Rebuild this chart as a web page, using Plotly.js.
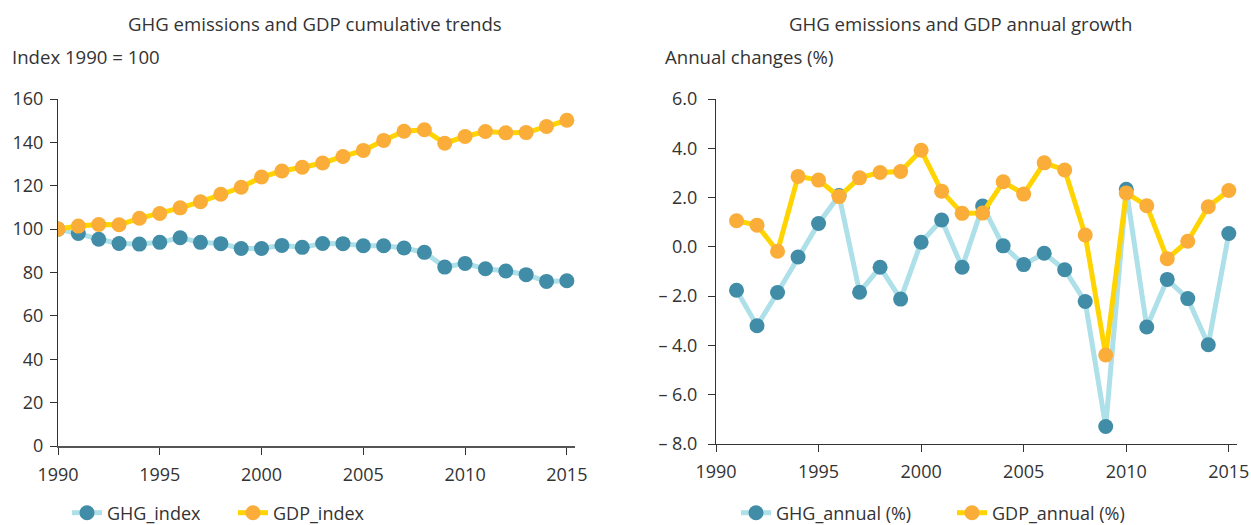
<!DOCTYPE html>
<html>
<head>
<meta charset="utf-8">
<script src="https://cdn.plot.ly/plotly-3.0.1.min.js"></script>
<style>html,body{margin:0;padding:0;background:#fff;overflow:hidden;}#chart{width:1251px;height:525px;}</style>
</head>
<body>
<div id="chart"></div>
<script>
const years = [1990,1991,1992,1993,1994,1995,1996,1997,1998,1999,2000,2001,2002,2003,2004,2005,2006,2007,2008,2009,2010,2011,2012,2013,2014,2015];
const ghgIndex = [100,98.0,95.3,93.4,93.1,93.9,96.0,93.9,93.3,91.1,91.1,92.5,91.6,93.4,93.3,92.3,92.3,91.3,89.3,82.5,84.2,81.7,80.7,79.0,75.9,76.2];
const gdpIndex = [100,101.4,102.1,102.0,105.0,107.2,109.8,112.6,116.1,119.3,124.0,126.8,128.5,130.5,133.5,136.3,140.9,145.1,145.8,139.6,142.7,145.0,144.4,144.5,147.3,150.2];

const annualYears = [1991,1992,1993,1994,1995,1996,1997,1998,1999,2000,2001,2002,2003,2004,2005,2006,2007,2008,2009,2010,2011,2012,2013,2014,2015];
const ghgAnnual = [-1.76,-3.20,-1.85,-0.41,0.95,2.08,-1.84,-0.83,-2.12,0.19,1.09,-0.83,1.66,0.04,-0.72,-0.26,-0.93,-2.22,-7.29,2.34,-3.25,-1.32,-2.10,-3.97,0.54];
const gdpAnnual = [1.06,0.88,-0.18,2.86,2.71,2.04,2.80,3.02,3.06,3.92,2.26,1.36,1.37,2.64,2.14,3.41,3.12,0.48,-4.39,2.19,1.67,-0.48,0.23,1.63,2.29];

const xTicks = [1990,1995,2000,2005,2010,2015];
const leftYTicks = [0,20,40,60,80,100,120,140,160];
const rightYTicks = [-8,-6,-4,-2,0,2,4,6];
const rightYLabels = ['\u2013 8.0','\u2013 6.0','\u2013 4.0','\u2013 2.0','0.0','2.0','4.0','6.0'];

const ghgLine = '#ade0e8', ghgMarker = '#418ca6';
const gdpLine = '#ffd400', gdpMarker = '#fbad3a';
const txt = '#333333';
const font = {family: '"Open Sans", sans-serif', size: 18, color: txt};
const titleFont = {family: '"Open Sans", sans-serif', size: 18.6, color: txt};

const W = 1251, H = 525;
const px = v => v / W, py = v => 1 - v / H;

const traces = [
  {x: years, y: ghgIndex, name: 'GHG_index', type: 'scatter', mode: 'lines+markers',
   line: {color: ghgLine, width: 5}, marker: {color: ghgMarker, size: 15},
   xaxis: 'x', yaxis: 'y', legend: 'legend'},
  {x: years, y: gdpIndex, name: 'GDP_index', type: 'scatter', mode: 'lines+markers',
   line: {color: gdpLine, width: 5}, marker: {color: gdpMarker, size: 15},
   xaxis: 'x', yaxis: 'y', legend: 'legend'},
  {x: annualYears, y: ghgAnnual, name: 'GHG_annual (%)', type: 'scatter', mode: 'lines+markers',
   line: {color: ghgLine, width: 5}, marker: {color: ghgMarker, size: 15},
   xaxis: 'x2', yaxis: 'y2', legend: 'legend2'},
  {x: annualYears, y: gdpAnnual, name: 'GDP_annual (%)', type: 'scatter', mode: 'lines+markers',
   line: {color: gdpLine, width: 5}, marker: {color: gdpMarker, size: 15},
   xaxis: 'x2', yaxis: 'y2', legend: 'legend2'}
];

const axisCommon = {
  showgrid: false, zeroline: false, showline: true, linecolor: txt, linewidth: 1,
  ticks: 'outside', ticklen: 7, tickcolor: txt, tickwidth: 1,
  tickfont: font, fixedrange: true
};

const layout = {
  width: W, height: H,
  margin: {l: 0, r: 0, t: 0, b: 0, autoexpand: false},
  paper_bgcolor: '#fff', plot_bgcolor: '#fff',
  font: font,
  showlegend: true,
  xaxis: Object.assign({}, axisCommon, {domain: [px(58), px(575)], range: [1990, 2015.4],
    tickvals: xTicks, ticktext: xTicks.map(String), anchor: 'y', linecolor: '#555', linewidth: 2,
    ticklabelstandoff: 4}),
  yaxis: Object.assign({}, axisCommon, {domain: [py(446), py(99)], range: [0, 160],
    tickvals: leftYTicks, ticktext: leftYTicks.map(String), anchor: 'x', ticklabelstandoff: 3}),
  xaxis2: Object.assign({}, axisCommon, {domain: [px(716), px(1237)], range: [1990, 2015.4],
    tickvals: xTicks, ticktext: xTicks.map(String), anchor: 'y2', ticklabelstandoff: 4}),
  yaxis2: Object.assign({}, axisCommon, {domain: [py(444), py(99)], range: [-8, 6],
    tickvals: rightYTicks, ticktext: rightYLabels, anchor: 'x2', ticklabelstandoff: 7}),
  legend: {orientation: 'h', x: px(67), xanchor: 'left', y: py(513), yanchor: 'middle',
    font: font, bgcolor: 'rgba(0,0,0,0)', entrywidth: 121, entrywidthmode: 'pixels'},
  legend2: {orientation: 'h', x: px(736), xanchor: 'left', y: py(513), yanchor: 'middle',
    font: font, bgcolor: 'rgba(0,0,0,0)', entrywidth: 171, entrywidthmode: 'pixels'},
  annotations: [
    {text: 'GHG emissions and GDP cumulative trends', xref: 'paper', yref: 'paper',
     x: px(315), y: py(23), xanchor: 'center', yanchor: 'middle', showarrow: false, font: titleFont},
    {text: 'Index 1990 = 100', xref: 'paper', yref: 'paper',
     x: px(10), y: py(57), xanchor: 'left', yanchor: 'middle', showarrow: false, font: titleFont},
    {text: 'GHG emissions and GDP annual growth', xref: 'paper', yref: 'paper',
     x: px(960), y: py(23), xanchor: 'center', yanchor: 'middle', showarrow: false, font: titleFont},
    {text: 'Annual changes (%)', xref: 'paper', yref: 'paper',
     x: px(663), y: py(57), xanchor: 'left', yanchor: 'middle', showarrow: false, font: titleFont}
  ]
};

Plotly.newPlot('chart', traces, layout, {displayModeBar: false, staticPlot: true});
</script>
</body>
</html>
